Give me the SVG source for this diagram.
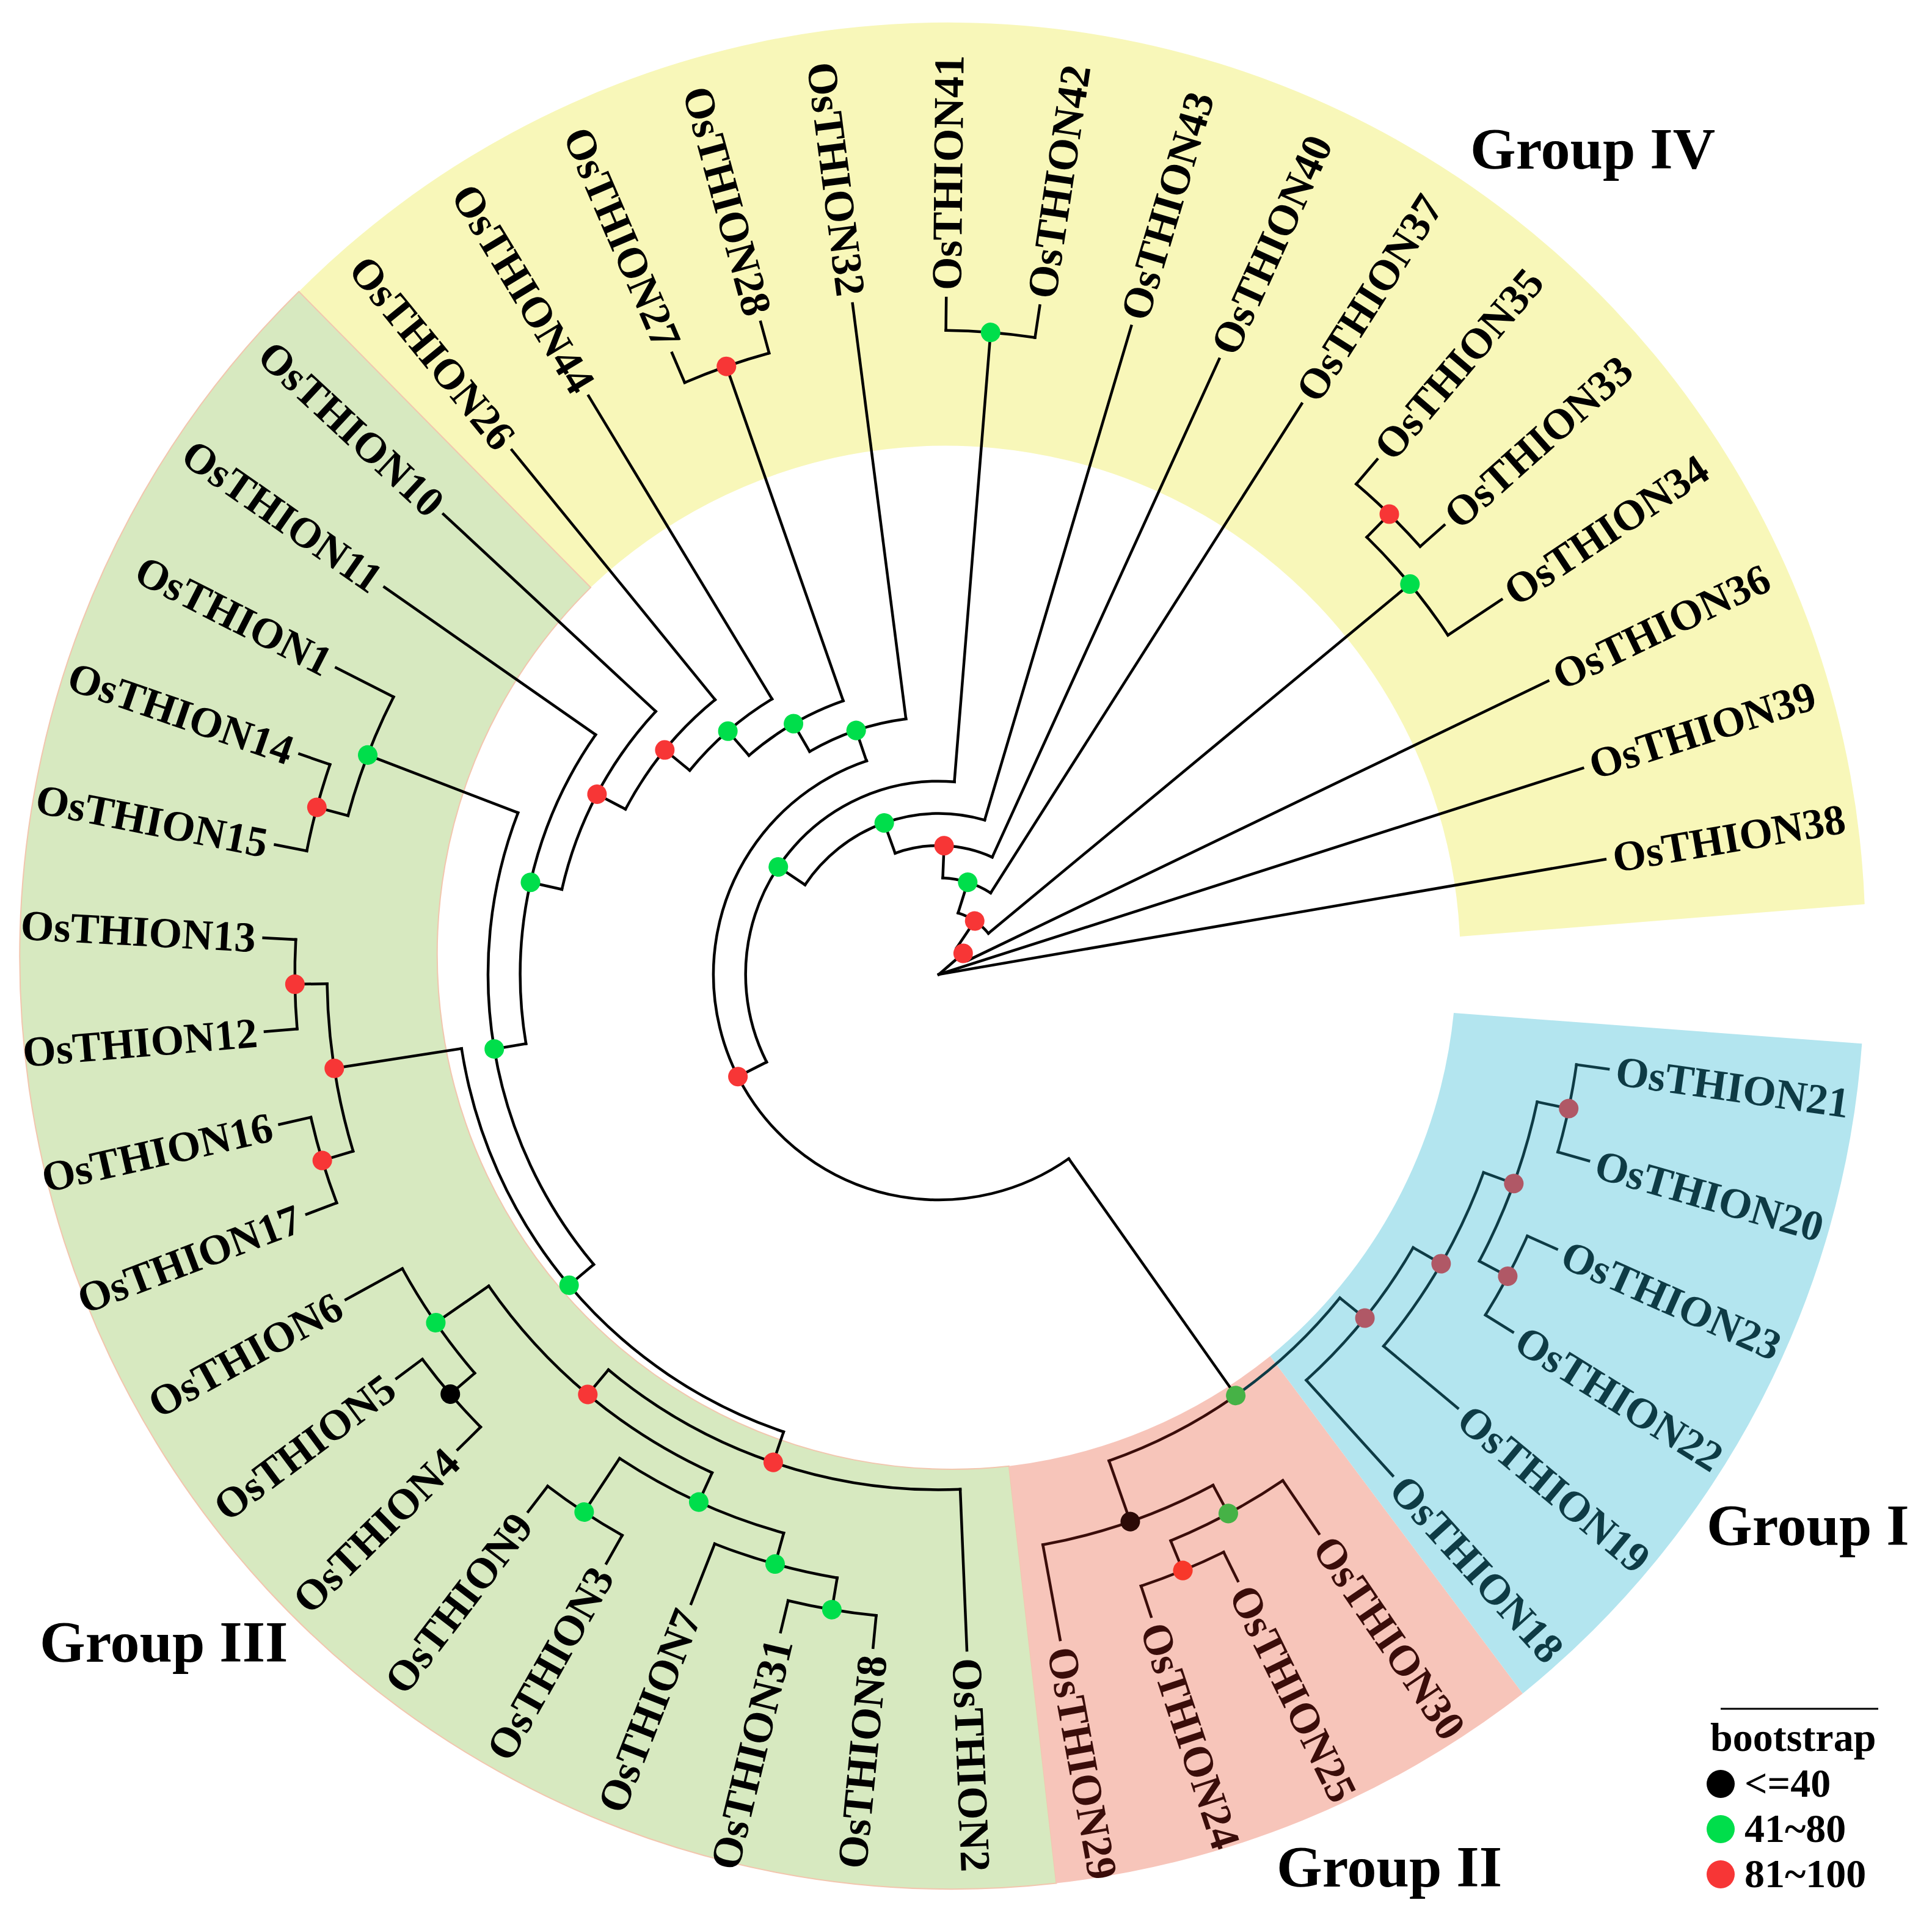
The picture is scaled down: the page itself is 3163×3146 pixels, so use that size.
<svg xmlns="http://www.w3.org/2000/svg" width="3163" height="3146" viewBox="0 0 3163 3146">
<style>
.b{fill:none;stroke:#000;stroke-width:4.5;stroke-linecap:square}
.b2{fill:none;stroke:#3A0D0A;stroke-width:4.5;stroke-linecap:square}
.b1{fill:none;stroke:#0E3B45;stroke-width:4.5;stroke-linecap:square}
text{font-family:"Liberation Serif","Times New Roman",serif;font-weight:700}
.lab{font-size:70px;fill:#000}
.lab1{fill:#0E3B45}
.lab2{fill:#3A0D0A}
.grp{font-size:96px;fill:#000}
.leg{font-size:66px;fill:#000}
.dg{fill:#00DE4B}
.dr{fill:#F73636}
.dk{fill:#000}
.dm{fill:#B05866}
.dg2{fill:#46B246}
.dr2{fill:#F8382A}
.dk2{fill:#2C0A07}
</style>
<rect width="3163" height="3146" fill="#fff"/>
<g id="backgrounds">
<path id="bg-group4" fill="#F8F7B9" d="M2390,1533 L3052.7,1480 A1502,1502 0 0 0 489.3,477.2 L967,961.6 A843,843 0 0 1 2390,1533 Z"/>
<path id="bg-group3" fill="#D7E9C0" stroke="#F2C6AE" stroke-width="2" d="M489.3,477.2 A1526,1526 0 0 0 1729.4,3082.5 L1651.9,2399.8 A843,843 0 0 1 967,961.6 Z"/>
<path id="bg-group2" fill="#F7C5BA" d="M1651.9,2399.8 L1729.4,3082.5 A1526,1526 0 0 0 2493,2772 L2079.5,2219.8 A843,843 0 0 1 1651.9,2399.8 Z"/>
<path id="bg-group1" fill="#B3E5EF" d="M2380,1658 L3048.3,1708.3 A1510,1510 0 0 1 2493,2772 L2079.5,2219.8 A835,835 0 0 0 2380,1658 Z"/>
</g>
<g id="connectors" transform="translate(1537 1595)">
<g class="b">
<circle r="52.7" stroke-dasharray="27.97 9999" transform="rotate(-56.12)"/>
<circle r="105.4" stroke-dasharray="60.63 9999" transform="rotate(-72.60)"/>
<circle r="158.1" stroke-dasharray="83.11 9999" transform="rotate(-87.66)"/>
<circle r="210.9" stroke-dasharray="163.14 9999" transform="rotate(-109.82)"/>
<circle r="263.6" stroke-dasharray="334.56 9999" transform="rotate(-146.18)"/>
<circle r="316.3" stroke-dasharray="671.12 9999" transform="rotate(-206.96)"/>
<circle r="369" stroke-dasharray="1265.39 9999" transform="rotate(-305.20)"/>
<circle r="421.7" stroke-dasharray="167.59 9999" transform="rotate(-120.10)"/>
<circle r="474.4" stroke-dasharray="179.51 9999" transform="rotate(-130.94)"/>
<circle r="527.1" stroke-dasharray="179.21 9999" transform="rotate(-140.68)"/>
<circle r="579.9" stroke-dasharray="233.19 9999" transform="rotate(-152.20)"/>
<circle r="632.6" stroke-dasharray="333.22 9999" transform="rotate(-167.29)"/>
<circle r="685.3" stroke-dasharray="531.66 9999" transform="rotate(-189.52)"/>
<circle r="738" stroke-dasharray="786.35 9999" transform="rotate(-220.04)"/>
<circle r="790.7" stroke-dasharray="861.42 9999" transform="rotate(-251.25)"/>
<circle r="843.4" stroke-dasharray="622.22 9999" transform="rotate(-272.38)"/>
<circle r="896.1" stroke-dasharray="482.34 9999" transform="rotate(-245.53)"/>
<circle r="948.9" stroke-dasharray="296.45 9999" transform="rotate(-254.48)"/>
<circle r="1001.6" stroke-dasharray="208.7 9999" transform="rotate(-45.61)"/>
<circle r="1001.6" stroke-dasharray="208.6 9999" transform="rotate(-164.96)"/>
<circle r="1001.6" stroke-dasharray="278.3 9999" transform="rotate(-196.79)"/>
<circle r="1001.6" stroke-dasharray="208.6 9999" transform="rotate(-220.66)"/>
<circle r="1001.6" stroke-dasharray="208.6 9999" transform="rotate(-260.44)"/>
<circle r="1054.3" stroke-dasharray="146.4 9999" transform="rotate(-49.59)"/>
<circle r="1054.3" stroke-dasharray="146.4 9999" transform="rotate(-89.37)"/>
<circle r="1054.3" stroke-dasharray="146.4 9999" transform="rotate(-113.24)"/>
<circle r="1054.3" stroke-dasharray="146.4 9999" transform="rotate(-168.94)"/>
<circle r="1054.3" stroke-dasharray="146.4 9999" transform="rotate(-184.85)"/>
<circle r="1054.3" stroke-dasharray="146.4 9999" transform="rotate(-200.77)"/>
<circle r="1054.3" stroke-dasharray="146.4 9999" transform="rotate(-224.64)"/>
<circle r="1054.3" stroke-dasharray="146.4 9999" transform="rotate(-240.55)"/>
<circle r="1054.3" stroke-dasharray="146.4 9999" transform="rotate(-264.42)"/>
<line x1="0" x2="1107" transform="rotate(-9.80)"/>
<line x1="0" x2="1107" transform="rotate(-17.76)"/>
<line x1="0" x2="52.7" transform="rotate(-40.92)"/>
<line x1="52.7" x2="1107" transform="rotate(-25.71)"/>
<line x1="52.7" x2="105.4" transform="rotate(-56.12)"/>
<line x1="105.4" x2="1001.6" transform="rotate(-39.64)"/>
<line x1="105.4" x2="158.1" transform="rotate(-72.60)"/>
<line x1="1001.6" x2="1107" transform="rotate(-33.67)"/>
<line x1="1001.6" x2="1054.3" transform="rotate(-45.61)"/>
<line x1="1054.3" x2="1107" transform="rotate(-41.63)"/>
<line x1="1054.3" x2="1107" transform="rotate(-49.59)"/>
<line x1="158.1" x2="1107" transform="rotate(-57.54)"/>
<line x1="158.1" x2="210.9" transform="rotate(-87.66)"/>
<line x1="210.9" x2="1107" transform="rotate(-65.50)"/>
<line x1="210.9" x2="263.6" transform="rotate(-109.82)"/>
<line x1="263.6" x2="1107" transform="rotate(-73.46)"/>
<line x1="263.6" x2="316.3" transform="rotate(-146.18)"/>
<line x1="316.3" x2="1054.3" transform="rotate(-85.39)"/>
<line x1="316.3" x2="369" transform="rotate(-206.96)"/>
<line x1="1054.3" x2="1107" transform="rotate(-81.41)"/>
<line x1="1054.3" x2="1107" transform="rotate(-89.37)"/>
<line x1="369" x2="421.7" transform="rotate(-108.72)"/>
<line x1="369" x2="843.4" transform="rotate(-305.20)"/>
<line x1="421.7" x2="1107" transform="rotate(-97.33)"/>
<line x1="421.7" x2="474.4" transform="rotate(-120.10)"/>
<line x1="474.4" x2="1054.3" transform="rotate(-109.26)"/>
<line x1="474.4" x2="527.1" transform="rotate(-130.94)"/>
<line x1="1054.3" x2="1107" transform="rotate(-105.28)"/>
<line x1="1054.3" x2="1107" transform="rotate(-113.24)"/>
<line x1="527.1" x2="1107" transform="rotate(-121.20)"/>
<line x1="527.1" x2="579.9" transform="rotate(-140.68)"/>
<line x1="579.9" x2="1107" transform="rotate(-129.16)"/>
<line x1="579.9" x2="632.6" transform="rotate(-152.20)"/>
<line x1="632.6" x2="1107" transform="rotate(-137.11)"/>
<line x1="632.6" x2="685.3" transform="rotate(-167.29)"/>
<line x1="685.3" x2="1107" transform="rotate(-145.07)"/>
<line x1="685.3" x2="738" transform="rotate(-189.52)"/>
<line x1="738" x2="1001.6" transform="rotate(-158.99)"/>
<line x1="738" x2="790.7" transform="rotate(-220.04)"/>
<line x1="1001.6" x2="1107" transform="rotate(-153.03)"/>
<line x1="1001.6" x2="1054.3" transform="rotate(-164.96)"/>
<line x1="1054.3" x2="1107" transform="rotate(-160.98)"/>
<line x1="1054.3" x2="1107" transform="rotate(-168.94)"/>
<line x1="790.7" x2="1001.6" transform="rotate(-188.83)"/>
<line x1="790.7" x2="843.4" transform="rotate(-251.25)"/>
<line x1="1001.6" x2="1054.3" transform="rotate(-180.87)"/>
<line x1="1001.6" x2="1054.3" transform="rotate(-196.79)"/>
<line x1="1054.3" x2="1107" transform="rotate(-176.90)"/>
<line x1="1054.3" x2="1107" transform="rotate(-184.85)"/>
<line x1="1054.3" x2="1107" transform="rotate(-192.81)"/>
<line x1="1054.3" x2="1107" transform="rotate(-200.77)"/>
<line x1="843.4" x2="896.1" transform="rotate(-230.11)"/>
<line x1="843.4" x2="1107" transform="rotate(-272.38)"/>
<line x1="896.1" x2="1001.6" transform="rotate(-214.69)"/>
<line x1="896.1" x2="948.9" transform="rotate(-245.53)"/>
<line x1="1001.6" x2="1107" transform="rotate(-208.73)"/>
<line x1="1001.6" x2="1054.3" transform="rotate(-220.66)"/>
<line x1="1054.3" x2="1107" transform="rotate(-216.68)"/>
<line x1="1054.3" x2="1107" transform="rotate(-224.64)"/>
<line x1="948.9" x2="1054.3" transform="rotate(-236.58)"/>
<line x1="948.9" x2="1001.6" transform="rotate(-254.48)"/>
<line x1="1054.3" x2="1107" transform="rotate(-232.60)"/>
<line x1="1054.3" x2="1107" transform="rotate(-240.55)"/>
<line x1="1001.6" x2="1107" transform="rotate(-248.51)"/>
<line x1="1001.6" x2="1054.3" transform="rotate(-260.44)"/>
<line x1="1054.3" x2="1107" transform="rotate(-256.47)"/>
<line x1="1054.3" x2="1107" transform="rotate(-264.42)"/>
</g>
<g class="b2">
<circle r="843.4" stroke-dasharray="234.27 9999" transform="rotate(-305.20)"/>
<circle r="948.9" stroke-dasharray="296.45 9999" transform="rotate(-298.24)"/>
<circle r="1001.6" stroke-dasharray="208.7 9999" transform="rotate(-304.21)"/>
<circle r="1054.3" stroke-dasharray="146.4 9999" transform="rotate(-296.25)"/>
<line x1="843.4" x2="948.9" transform="rotate(-289.29)"/>
<line x1="948.9" x2="1107" transform="rotate(-280.34)"/>
<line x1="948.9" x2="1001.6" transform="rotate(-298.24)"/>
<line x1="1001.6" x2="1054.3" transform="rotate(-292.27)"/>
<line x1="1001.6" x2="1107" transform="rotate(-304.21)"/>
<line x1="1054.3" x2="1107" transform="rotate(-288.30)"/>
<line x1="1054.3" x2="1107" transform="rotate(-296.25)"/>
</g>
<g class="b1">
<circle r="843.4" stroke-dasharray="234.27 9999" transform="rotate(-321.12)"/>
<circle r="896.1" stroke-dasharray="279.95 9999" transform="rotate(-330.07)"/>
<circle r="948.9" stroke-dasharray="329.57 9999" transform="rotate(-340.02)"/>
<circle r="1001.6" stroke-dasharray="278.3 9999" transform="rotate(-347.98)"/>
<circle r="1054.3" stroke-dasharray="146.4 9999" transform="rotate(-336.04)"/>
<circle r="1054.3" stroke-dasharray="146.4 9999" transform="rotate(-351.95)"/>
<line x1="843.4" x2="896.1" transform="rotate(-321.12)"/>
<line x1="896.1" x2="1107" transform="rotate(-312.17)"/>
<line x1="896.1" x2="948.9" transform="rotate(-330.07)"/>
<line x1="948.9" x2="1107" transform="rotate(-320.12)"/>
<line x1="948.9" x2="1001.6" transform="rotate(-340.02)"/>
<line x1="1001.6" x2="1054.3" transform="rotate(-332.06)"/>
<line x1="1001.6" x2="1054.3" transform="rotate(-347.98)"/>
<line x1="1054.3" x2="1107" transform="rotate(-328.08)"/>
<line x1="1054.3" x2="1107" transform="rotate(-336.04)"/>
<line x1="1054.3" x2="1107" transform="rotate(-344.00)"/>
<line x1="1054.3" x2="1107" transform="rotate(-351.95)"/>
</g>
</g>
<g id="nodes" transform="translate(1537 1595)">
<g id="node-A"><circle class="dr" cx="52.7" r="16" transform="rotate(-40.92)"/></g>
<g id="node-B"><circle class="dr" cx="105.4" r="16" transform="rotate(-56.12)"/></g>
<g id="node-C"><circle class="dg" cx="158.1" r="16" transform="rotate(-72.60)"/></g>
<g id="node-D"><circle class="dr" cx="210.9" r="16" transform="rotate(-87.66)"/></g>
<g id="node-E"><circle class="dg" cx="263.6" r="16" transform="rotate(-109.82)"/></g>
<g id="node-G1"><circle class="dg" cx="316.3" r="16" transform="rotate(-146.18)"/></g>
<g id="node-R1"><circle class="dr" cx="369" r="16" transform="rotate(-206.96)"/></g>
<g id="node-G2"><circle class="dg" cx="421.7" r="16" transform="rotate(-108.72)"/></g>
<g id="node-G3"><circle class="dg" cx="474.4" r="16" transform="rotate(-120.10)"/></g>
<g id="node-G4"><circle class="dg" cx="527.1" r="16" transform="rotate(-130.94)"/></g>
<g id="node-R2"><circle class="dr" cx="579.9" r="16" transform="rotate(-140.68)"/></g>
<g id="node-R3"><circle class="dr" cx="632.6" r="16" transform="rotate(-152.20)"/></g>
<g id="node-G5"><circle class="dg" cx="685.3" r="16" transform="rotate(-167.29)"/></g>
<g id="node-G6"><circle class="dg" cx="738" r="16" transform="rotate(-189.52)"/></g>
<g id="node-G7"><circle class="dg" cx="790.7" r="16" transform="rotate(-220.04)"/></g>
<g id="node-R5"><circle class="dr" cx="843.4" r="16" transform="rotate(-251.25)"/></g>
<g id="node-R4"><circle class="dr" cx="896.1" r="16" transform="rotate(-230.11)"/></g>
<g id="node-G9"><circle class="dg" cx="948.9" r="16" transform="rotate(-245.53)"/></g>
<g id="node-G33"><circle class="dg" cx="1001.6" r="16" transform="rotate(-39.64)"/></g>
<g id="node-R3533"><circle class="dr" cx="1054.3" r="16" transform="rotate(-45.61)"/></g>
<g id="node-F4142"><circle class="dg" cx="1054.3" r="16" transform="rotate(-85.39)"/></g>
<g id="node-R2728"><circle class="dr" cx="1054.3" r="16" transform="rotate(-109.26)"/></g>
<g id="node-N1"><circle class="dg" cx="1001.6" r="16" transform="rotate(-158.99)"/></g>
<g id="node-N1415"><circle class="dr" cx="1054.3" r="16" transform="rotate(-164.96)"/></g>
<g id="node-R6"><circle class="dr" cx="1001.6" r="16" transform="rotate(-188.83)"/></g>
<g id="node-R1312"><circle class="dr" cx="1054.3" r="16" transform="rotate(-180.87)"/></g>
<g id="node-R1617"><circle class="dr" cx="1054.3" r="16" transform="rotate(-196.79)"/></g>
<g id="node-G8"><circle class="dg" cx="1001.6" r="16" transform="rotate(-214.69)"/></g>
<g id="node-K54"><circle class="dk" cx="1054.3" r="16" transform="rotate(-220.66)"/></g>
<g id="node-G93"><circle class="dg" cx="1054.3" r="16" transform="rotate(-236.58)"/></g>
<g id="node-G11"><circle class="dg" cx="1001.6" r="16" transform="rotate(-254.48)"/></g>
<g id="node-G318"><circle class="dg" cx="1054.3" r="16" transform="rotate(-260.44)"/></g>
<g id="node-NI"><circle class="dg2" cx="843.4" r="16" transform="rotate(-305.20)"/></g>
<g id="node-B2"><circle class="dk2" cx="948.9" r="16" transform="rotate(-289.29)"/></g>
<g id="node-G2b"><circle class="dg2" cx="1001.6" r="16" transform="rotate(-298.24)"/></g>
<g id="node-R2425"><circle class="dr2" cx="1054.3" r="16" transform="rotate(-292.27)"/></g>
<g id="node-M1"><circle class="dm" cx="896.1" r="16" transform="rotate(-321.12)"/></g>
<g id="node-M2"><circle class="dm" cx="948.9" r="16" transform="rotate(-330.07)"/></g>
<g id="node-M3"><circle class="dm" cx="1001.6" r="16" transform="rotate(-340.02)"/></g>
<g id="node-M5"><circle class="dm" cx="1054.3" r="16" transform="rotate(-332.06)"/></g>
<g id="node-M4"><circle class="dm" cx="1054.3" r="16" transform="rotate(-347.98)"/></g>
</g>
<g id="leaves" transform="translate(1537 1595)">
<g id="leaf-OsTHION38"><text class="lab" x="1120" y="24" transform="rotate(-9.80)">OsTHION38</text></g>
<g id="leaf-OsTHION39"><text class="lab" x="1120" y="24" transform="rotate(-17.76)">OsTHION39</text></g>
<g id="leaf-OsTHION36"><text class="lab" x="1120" y="24" transform="rotate(-25.71)">OsTHION36</text></g>
<g id="leaf-OsTHION34"><text class="lab" x="1120" y="24" transform="rotate(-33.67)">OsTHION34</text></g>
<g id="leaf-OsTHION33"><text class="lab" x="1120" y="24" transform="rotate(-41.63)">OsTHION33</text></g>
<g id="leaf-OsTHION35"><text class="lab" x="1120" y="24" transform="rotate(-49.59)">OsTHION35</text></g>
<g id="leaf-OsTHION37"><text class="lab" x="1120" y="24" transform="rotate(-57.54)">OsTHION37</text></g>
<g id="leaf-OsTHION40"><text class="lab" x="1120" y="24" transform="rotate(-65.50)">OsTHION40</text></g>
<g id="leaf-OsTHION43"><text class="lab" x="1120" y="24" transform="rotate(-73.46)">OsTHION43</text></g>
<g id="leaf-OsTHION42"><text class="lab" x="1120" y="24" transform="rotate(-81.41)">OsTHION42</text></g>
<g id="leaf-OsTHION41"><text class="lab" x="1120" y="24" transform="rotate(-89.37)">OsTHION41</text></g>
<g id="leaf-OsTHION32"><text class="lab" x="-1120" y="24" text-anchor="end" transform="rotate(82.67)">OsTHION32</text></g>
<g id="leaf-OsTHION28"><text class="lab" x="-1120" y="24" text-anchor="end" transform="rotate(74.72)">OsTHION28</text></g>
<g id="leaf-OsTHION27"><text class="lab" x="-1120" y="24" text-anchor="end" transform="rotate(66.76)">OsTHION27</text></g>
<g id="leaf-OsTHION44"><text class="lab" x="-1120" y="24" text-anchor="end" transform="rotate(58.80)">OsTHION44</text></g>
<g id="leaf-OsTHION26"><text class="lab" x="-1120" y="24" text-anchor="end" transform="rotate(50.84)">OsTHION26</text></g>
<g id="leaf-OsTHION10"><text class="lab" x="-1120" y="24" text-anchor="end" transform="rotate(42.89)">OsTHION10</text></g>
<g id="leaf-OsTHION11"><text class="lab" x="-1120" y="24" text-anchor="end" transform="rotate(34.93)">OsTHION11</text></g>
<g id="leaf-OsTHION1"><text class="lab" x="-1120" y="24" text-anchor="end" transform="rotate(26.97)">OsTHION1</text></g>
<g id="leaf-OsTHION14"><text class="lab" x="-1120" y="24" text-anchor="end" transform="rotate(19.02)">OsTHION14</text></g>
<g id="leaf-OsTHION15"><text class="lab" x="-1120" y="24" text-anchor="end" transform="rotate(11.06)">OsTHION15</text></g>
<g id="leaf-OsTHION13"><text class="lab" x="-1120" y="24" text-anchor="end" transform="rotate(3.10)">OsTHION13</text></g>
<g id="leaf-OsTHION12"><text class="lab" x="-1120" y="24" text-anchor="end" transform="rotate(-4.85)">OsTHION12</text></g>
<g id="leaf-OsTHION16"><text class="lab" x="-1120" y="24" text-anchor="end" transform="rotate(-12.81)">OsTHION16</text></g>
<g id="leaf-OsTHION17"><text class="lab" x="-1120" y="24" text-anchor="end" transform="rotate(-20.77)">OsTHION17</text></g>
<g id="leaf-OsTHION6"><text class="lab" x="-1120" y="24" text-anchor="end" transform="rotate(-28.73)">OsTHION6</text></g>
<g id="leaf-OsTHION5"><text class="lab" x="-1120" y="24" text-anchor="end" transform="rotate(-36.68)">OsTHION5</text></g>
<g id="leaf-OsTHION4"><text class="lab" x="-1120" y="24" text-anchor="end" transform="rotate(-44.64)">OsTHION4</text></g>
<g id="leaf-OsTHION9"><text class="lab" x="-1120" y="24" text-anchor="end" transform="rotate(-52.60)">OsTHION9</text></g>
<g id="leaf-OsTHION3"><text class="lab" x="-1120" y="24" text-anchor="end" transform="rotate(-60.55)">OsTHION3</text></g>
<g id="leaf-OsTHION7"><text class="lab" x="-1120" y="24" text-anchor="end" transform="rotate(-68.51)">OsTHION7</text></g>
<g id="leaf-OsTHION31"><text class="lab" x="-1120" y="24" text-anchor="end" transform="rotate(-76.47)">OsTHION31</text></g>
<g id="leaf-OsTHION8"><text class="lab" x="-1120" y="24" text-anchor="end" transform="rotate(-84.42)">OsTHION8</text></g>
<g id="leaf-OsTHION2"><text class="lab" x="1120" y="24" transform="rotate(87.62)">OsTHION2</text></g>
<g id="leaf-OsTHION29"><text class="lab lab2" x="1120" y="24" transform="rotate(79.66)">OsTHION29</text></g>
<g id="leaf-OsTHION24"><text class="lab lab2" x="1120" y="24" transform="rotate(71.70)">OsTHION24</text></g>
<g id="leaf-OsTHION25"><text class="lab lab2" x="1120" y="24" transform="rotate(63.75)">OsTHION25</text></g>
<g id="leaf-OsTHION30"><text class="lab lab2" x="1120" y="24" transform="rotate(55.79)">OsTHION30</text></g>
<g id="leaf-OsTHION18"><text class="lab lab1" x="1120" y="24" transform="rotate(47.83)">OsTHION18</text></g>
<g id="leaf-OsTHION19"><text class="lab lab1" x="1120" y="24" transform="rotate(39.88)">OsTHION19</text></g>
<g id="leaf-OsTHION22"><text class="lab lab1" x="1120" y="24" transform="rotate(31.92)">OsTHION22</text></g>
<g id="leaf-OsTHION23"><text class="lab lab1" x="1120" y="24" transform="rotate(23.96)">OsTHION23</text></g>
<g id="leaf-OsTHION20"><text class="lab lab1" x="1120" y="24" transform="rotate(16.00)">OsTHION20</text></g>
<g id="leaf-OsTHION21"><text class="lab lab1" x="1120" y="24" transform="rotate(8.05)">OsTHION21</text></g>
</g>
<g id="group-labels">
<text class="grp" x="2407" y="276">Group IV</text>
<text class="grp" x="65" y="2720">Group III</text>
<text class="grp" x="2090" y="3088">Group II</text>
<text class="grp" x="2794" y="2529">Group I</text>
</g>
<g id="legend">
<line x1="2817" y1="2797" x2="3075" y2="2797" stroke="#000" stroke-width="3"/>
<text class="leg" x="2800" y="2866">bootstrap</text>
<circle cx="2817" cy="2920" r="23" class="dk"/>
<text class="leg" x="2856" y="2941">&lt;=40</text>
<circle cx="2817" cy="2994" r="23" class="dg"/>
<text class="leg" x="2856" y="3015">41~80</text>
<circle cx="2817" cy="3068" r="23" class="dr"/>
<text class="leg" x="2856" y="3089">81~100</text>
</g>
</svg>
